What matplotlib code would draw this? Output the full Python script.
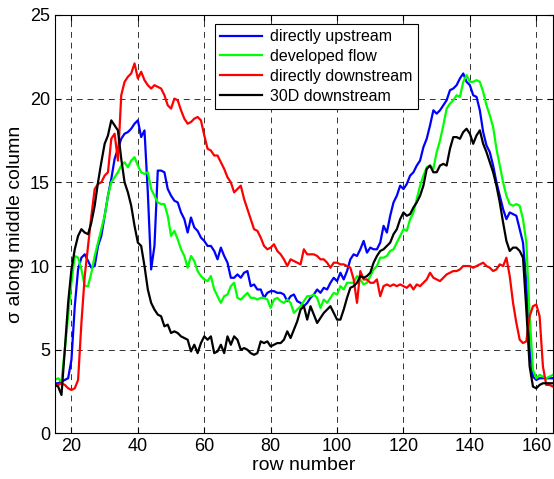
import matplotlib
matplotlib.use("Agg")
import matplotlib.pyplot as plt
import numpy as np

rows = np.arange(15, 166)

upstream = [
    3.0, 3.0, 3.1, 3.2, 3.3, 4.4, 7.6, 9.8, 10.5, 10.7,
    10.3, 9.9, 10.0, 11.2, 11.8, 13.0, 14.2, 15.2, 16.4, 17.0,
    17.6, 17.9, 18.0, 18.2, 18.5, 18.7, 17.7, 18.1, 14.4, 9.8,
    11.2, 15.7, 15.7, 15.6, 14.6, 14.2, 13.9, 13.8, 13.2, 12.8,
    12.0, 12.9, 12.3, 12.1, 11.7, 11.5, 11.2, 11.2, 10.9, 10.4,
    11.1, 10.6, 10.2, 9.3, 9.3, 9.5, 9.3, 9.6, 9.7, 8.8,
    8.9, 8.6, 8.6, 8.1, 8.4, 8.5, 8.5, 8.4, 8.4, 8.3,
    7.9, 8.2, 8.3, 7.9, 7.8, 7.6, 7.8, 8.1, 8.3, 8.6,
    8.4, 8.7, 8.6, 9.0, 9.3, 9.1, 9.6, 9.2, 9.7, 10.4,
    10.7, 10.6, 11.0, 11.5, 10.8, 11.1, 11.0, 11.0, 11.4, 12.4,
    12.0, 13.0, 13.8, 14.2, 14.8, 14.6, 14.9, 15.4, 15.6, 16.0,
    16.3, 17.1, 17.6, 18.4, 19.3, 19.1, 19.3, 19.6, 19.9, 20.5,
    20.6, 20.8, 21.2, 21.5, 21.0, 20.8, 20.2, 20.1, 19.3, 18.0,
    17.2, 16.8, 16.0, 15.0, 14.2, 13.4, 12.8, 13.2, 13.1, 13.0,
    12.2, 11.4, 9.0, 5.0, 3.4, 3.2, 3.3, 3.3, 3.3, 3.3,
    3.3,
]

developed = [
    3.2, 3.3, 3.1, 5.0, 7.0, 9.0, 10.6, 10.5, 9.8, 8.8,
    8.8, 9.6, 10.6, 11.4, 12.2, 13.0, 14.2, 15.0, 15.3, 15.6,
    16.0, 16.2, 15.9, 16.3, 16.5, 16.0, 15.6, 15.5, 15.6, 14.6,
    14.2, 13.8, 13.7, 13.7, 13.0, 11.8, 12.1, 11.6, 11.0, 10.6,
    9.9, 10.6, 10.3, 9.7, 9.4, 9.2, 9.1, 9.4, 8.6, 8.2,
    7.8, 8.2, 8.3, 8.8, 9.0, 8.1, 8.0, 8.2, 8.4, 8.1,
    8.1, 8.0, 8.1, 8.1, 8.0, 7.5, 8.0, 8.1, 7.9, 7.8,
    8.0, 7.8, 7.2, 7.4, 7.6, 7.9, 8.2, 8.2, 8.3, 8.1,
    7.5, 8.0, 7.8, 8.1, 8.4, 8.3, 8.8, 8.6, 9.0, 9.0,
    9.0, 9.4, 9.2, 8.9, 9.0, 9.4, 9.8, 10.0, 10.5, 10.5,
    10.6, 10.9, 11.0, 11.4, 11.8, 12.2, 12.1, 12.8, 13.2, 14.0,
    14.8, 15.4, 15.9, 16.0, 15.8, 16.8, 17.5, 18.4, 19.4, 19.7,
    19.9, 20.2, 20.1, 21.0, 21.4, 21.0, 21.0, 21.1, 21.0, 20.4,
    19.6, 19.0, 18.3, 17.0, 16.0, 15.0, 14.2, 13.7, 13.6, 13.7,
    13.6, 12.8, 11.4, 7.0, 3.8, 3.3, 3.5, 3.4, 3.3, 3.4,
    3.5,
]

downstream = [
    2.9, 2.9, 3.0, 2.9, 2.7, 2.6, 2.7, 3.2, 6.6, 9.4,
    11.2, 13.0, 14.6, 14.9, 15.0, 15.4, 15.6, 17.6, 17.9, 16.3,
    20.2, 21.0, 21.3, 21.5, 22.1, 21.2, 21.6, 21.1, 20.8, 20.6,
    20.8, 20.7, 20.6, 20.2, 19.6, 19.4, 20.0, 19.9, 19.3, 18.8,
    18.5, 18.6, 18.8, 18.9, 18.7, 17.8, 17.0, 16.9, 16.6, 16.6,
    16.2, 15.8, 15.3, 15.0, 14.4, 14.6, 14.8, 14.0, 13.4, 12.8,
    12.2, 12.1, 11.7, 11.2, 11.0, 11.1, 11.3, 10.9, 10.7, 10.4,
    10.0, 10.4, 10.3, 10.2, 10.1, 11.0, 10.7, 10.7, 10.7, 10.6,
    10.4, 10.4, 10.2, 9.9, 10.2, 10.2, 10.1, 10.1, 10.0, 9.9,
    9.2, 7.8, 9.7, 9.2, 9.2, 9.0, 9.0, 9.2, 8.2, 8.8,
    8.9, 8.8, 8.9, 8.8, 8.9, 8.8, 8.7, 8.9, 8.6, 8.9,
    8.8, 9.0, 9.2, 9.6, 9.3, 9.2, 9.1, 9.3, 9.5, 9.6,
    9.7, 9.7, 9.8, 10.0, 10.0, 10.0, 9.9, 10.0, 10.1, 10.2,
    10.0, 9.9, 9.7, 9.8, 10.1, 10.0, 10.5, 9.4, 7.8, 6.6,
    5.6, 5.4, 5.5, 7.0, 7.6, 7.7, 7.0, 4.0, 2.9, 2.9,
    2.8,
]

far_downstream = [
    2.9, 2.8, 2.3, 5.0, 7.8, 9.8, 11.0, 11.8, 12.2, 12.0,
    11.9, 12.6, 13.6, 15.0, 16.2, 17.3, 17.8, 18.7, 18.4, 18.1,
    16.4, 15.0, 14.4, 13.6, 12.4, 11.4, 11.2, 10.0, 8.6, 7.8,
    7.4, 7.1, 7.0, 6.4, 6.5, 6.0, 6.1, 6.0, 5.8, 5.7,
    5.6, 4.9, 5.3, 4.8, 5.4, 5.8, 5.6, 5.8, 4.8, 4.9,
    5.3, 4.8, 5.8, 5.3, 5.8, 5.6, 5.0, 5.1, 5.0, 4.8,
    4.7, 4.8, 5.5, 5.4, 5.5, 5.2, 5.3, 5.4, 5.4, 5.6,
    6.1, 5.7, 6.2, 6.7, 7.4, 7.6, 6.8, 7.6, 7.1, 6.6,
    6.9, 7.2, 7.4, 7.6, 7.2, 6.8, 6.8, 7.4, 8.1, 8.7,
    8.8, 9.0, 9.4, 9.3, 9.4, 9.6, 10.2, 10.6, 10.9, 11.0,
    11.2, 11.4, 11.9, 12.2, 12.8, 13.2, 13.0, 13.1, 13.5, 13.8,
    14.2, 14.8, 15.8, 16.0, 15.6, 15.6, 16.0, 16.1, 16.0, 17.0,
    17.7, 17.7, 17.6, 18.0, 18.2, 17.9, 17.3, 17.8, 18.1, 17.3,
    16.8, 16.2, 15.6, 14.8, 13.8, 12.6, 11.5, 10.9, 11.1, 11.1,
    10.9, 10.5, 7.4, 4.0, 2.8, 2.7, 2.9, 3.0, 3.0, 3.0,
    3.0,
]

series = [
    ("directly upstream", upstream, "#0000ff"),
    ("developed flow", developed, "#00ff00"),
    ("directly downstream", downstream, "#ff0000"),
    ("30D downstream", far_downstream, "#000000"),
]

plt.rcParams["font.family"] = ["Liberation Sans", "DejaVu Sans"]

fig = plt.figure(figsize=(5.54, 4.79), dpi=100)
ax = fig.add_axes([0.099, 0.095, 0.899, 0.874])

for label, values, color in series:
    ax.plot(rows, values, color=color, linewidth=1.6, label=label)

ax.set_xlim(15, 165)
ax.set_ylim(0, 25)
ax.set_xticks(np.arange(20, 161, 20))
ax.set_yticks(np.arange(0, 26, 5))
ax.grid(True, color="black", linestyle=(0, (6, 5)), linewidth=0.7, alpha=0.8)
ax.tick_params(direction="in", top=True, right=True, labelsize=13, length=4)
for s in ax.spines.values():
    s.set_linewidth(0.8)

ax.set_xlabel("row number", fontsize=14, labelpad=1)
ax.set_ylabel("σ along middle column", fontsize=14, labelpad=4)

leg = ax.legend(loc="upper left", bbox_to_anchor=(0.305, 0.998), fontsize=11.5,
                frameon=True, fancybox=False, framealpha=1, edgecolor="black",
                handlelength=2.6, borderpad=0.35, labelspacing=0.3, handletextpad=0.5)
leg.get_frame().set_linewidth(0.8)

fig.savefig("out.png", dpi=100)
